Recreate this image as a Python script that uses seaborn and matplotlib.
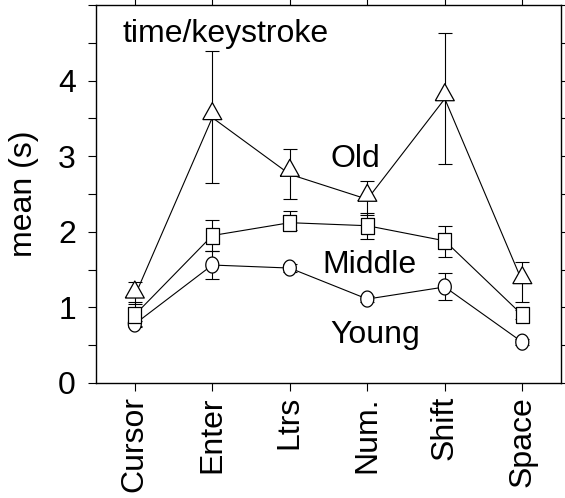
import numpy as np
import pandas as pd
import matplotlib
matplotlib.use("Agg")
import matplotlib.pyplot as plt
from matplotlib.ticker import MultipleLocator
import seaborn as sns

# ---- data ----
categories = ["Cursor", "Enter", "Ltrs", "Num.", "Shift", "Space"]
groups = ["Young", "Middle", "Old"]

young_mean = [0.78, 1.56, 1.52, 1.11, 1.27, 0.54]
young_lo = [0.74, 1.38, 1.47, 1.07, 1.10, 0.50]
young_hi = [0.82, 1.74, 1.57, 1.15, 1.46, 0.58]

middle_mean = [0.90, 1.95, 2.12, 2.08, 1.88, 0.90]
middle_lo = [0.75, 1.74, 2.02, 1.91, 1.67, 0.84]
middle_hi = [1.07, 2.15, 2.27, 2.25, 2.08, 0.96]

old_mean = [1.15, 3.51, 2.76, 2.43, 3.76, 1.34]
old_lo = [1.05, 2.64, 2.43, 2.22, 2.89, 1.07]
old_hi = [1.34, 4.39, 3.10, 2.67, 4.63, 1.60]

y_ticks = [0, 1, 2, 3, 4]
y_ticklabels = ["0", "1", "2", "3", "4"]

series = {
    "Young": (young_mean, young_lo, young_hi),
    "Middle": (middle_mean, middle_lo, middle_hi),
    "Old": (old_mean, old_lo, old_hi),
}

rows = []
for g in groups:
    m, lo, hi = series[g]
    for c, mm, l, h in zip(categories, m, lo, hi):
        rows.append({"key": c, "group": g, "mean": mm, "lo": l, "hi": h})
df = pd.DataFrame(rows)

# ---- style ----
sns.set_theme(style="ticks")
plt.rcParams["font.family"] = ["Liberation Sans", "DejaVu Sans"]
plt.rcParams["text.color"] = "black"
plt.rcParams["axes.labelcolor"] = "black"
plt.rcParams["xtick.color"] = "black"
plt.rcParams["ytick.color"] = "black"
plt.rcParams["axes.edgecolor"] = "black"
FS = 23

fig = plt.figure(figsize=(5.65, 4.98), dpi=100)
ax = fig.add_axes([0.170, 0.231, 0.823, 0.759])

# connecting lines
sns.lineplot(data=df, x="key", y="mean", units="group", estimator=None,
             sort=False, color="black", lw=0.8, zorder=2, ax=ax, legend=False)

# error bars
for g in groups:
    sub = df[df["group"] == g]
    ax.errorbar(sub["key"], sub["mean"],
                yerr=[sub["mean"] - sub["lo"], sub["hi"] - sub["mean"]],
                fmt="none", ecolor="black", elinewidth=0.8, capsize=5,
                capthick=0.8, zorder=2)

# markers (custom shapes, white filled)
t = np.linspace(0, 2 * np.pi, 60)
ellipse = list(zip(6.5 * np.cos(t), 8.0 * np.sin(t)))
rect = [(-6.5, -8), (6.5, -8), (6.5, 8), (-6.5, 8), (-6.5, -8)]
tri = [(-9.5, -2), (9.5, -2), (0, 15), (-9.5, -2)]
markers = {"Young": ellipse, "Middle": rect, "Old": tri}
sizes = {"Young": (16 * 0.72) ** 2, "Middle": (16 * 0.72) ** 2,
         "Old": (30 * 0.72) ** 2}

sns.scatterplot(data=df, x="key", y="mean", style="group", markers=markers,
                size="group", sizes=sizes, color="white", edgecolor="black",
                linewidth=0.9, zorder=4, legend=False, ax=ax)

# ---- axes ----
ax.set_xlim(-0.5, 5.5)
ax.set_ylim(0, 5.0)
ax.set_yticks(y_ticks)
ax.set_yticklabels(y_ticklabels)
ax.yaxis.set_minor_locator(MultipleLocator(0.5))
ax.set_xticks(range(len(categories)))
ax.set_xticklabels(categories, rotation=90)

ax.tick_params(axis="both", which="both", direction="out", length=5.5,
               width=0.8, color="black", labelcolor="black", top=True,
               right=True, labeltop=False, labelright=False, labelsize=FS)
ax.tick_params(axis="y", which="both", pad=9)
ax.tick_params(axis="x", which="both", pad=4)

ax.set_xlabel("")
ax.set_ylabel("mean (s)", fontsize=FS, labelpad=14, color="black")

for sp in ax.spines.values():
    sp.set_visible(True)
    sp.set_linewidth(1.0)
    sp.set_color("black")

# annotations
ax.text(-0.155, 4.51, "time/keystroke", fontsize=FS, ha="left", va="baseline", color="black")
ax.text(2.52, 2.86, "Old", fontsize=FS, ha="left", va="baseline", color="black")
ax.text(2.42, 1.46, "Middle", fontsize=FS, ha="left", va="baseline", color="black")
ax.text(2.52, 0.53, "Young", fontsize=FS, ha="left", va="baseline", color="black")

fig.savefig("out.png", dpi=100)
